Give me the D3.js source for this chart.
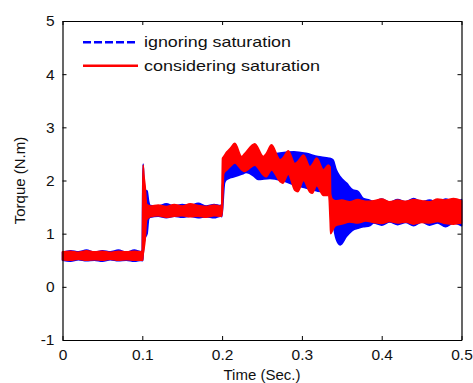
<!DOCTYPE html>
<html><head><meta charset="utf-8">
<script src="https://cdn.jsdelivr.net/npm/d3@7"></script>
<style>html,body{margin:0;padding:0;background:#fff;}svg{display:block;}</style>
</head><body>
<svg id="chart" width="473" height="383"></svg>
<script>
// ---- data (each series drawn as its min/max envelope) ----
const xTicks = [0, 0.1, 0.2, 0.3, 0.4, 0.5];
const yTicks = [-1, 0, 1, 2, 3, 4, 5];
const seriesNames = ["ignoring saturation", "considering saturation"];

// ignoring saturation (blue)
const blueTime = [0,0.01,0.02,0.03,0.04,0.05,0.06,0.07,0.08,0.09,0.099,0.1,0.1005,0.101,0.102,0.1035,0.106,0.108,0.11,
  0.12,0.13,0.14,0.15,0.16,0.17,0.18,0.19,0.198,0.1995,0.2005,0.203,0.205,0.21,0.215,0.225,0.23,0.24,0.245,0.26,0.275,0.29,0.305,0.32,0.334,
  0.339,0.343,0.348,0.356,0.364,0.37,0.377,0.385,0.39,0.4,0.41,0.42,0.43,0.44,0.45,0.46,0.47,0.48,0.49,0.5];
const blueLow = [0.5,0.48,0.51,0.49,0.5,0.48,0.51,0.49,0.5,0.48,0.5,0.49,0.5,0.6,0.8,0.92,1.0,1.28,1.31,
  1.33,1.3,1.33,1.31,1.33,1.3,1.32,1.3,1.33,1.32,1.45,1.95,2.01,2.05,2.07,2.12,2.15,2.08,2.02,2.04,2.0,1.92,1.86,1.8,1.78,
  1.2,0.9,0.79,0.95,1.07,1.1,1.13,1.15,1.2,1.16,1.22,1.17,1.21,1.15,1.22,1.16,1.2,1.13,1.2,1.15];
const blueHigh = [0.65,0.68,0.66,0.69,0.65,0.68,0.66,0.69,0.65,0.69,0.66,0.7,1.8,2.31,2.0,1.82,1.8,1.6,1.53,
  1.52,1.56,1.52,1.55,1.53,1.57,1.52,1.55,1.53,1.55,1.9,2.14,2.25,2.33,2.38,2.42,2.4,2.39,2.4,2.48,2.52,2.54,2.51,2.45,2.42,
  2.39,2.2,2.07,1.95,1.82,1.8,1.66,1.63,1.6,1.65,1.59,1.64,1.6,1.66,1.6,1.63,1.58,1.65,1.6,1.64];

// considering saturation (red)
const redTime = [0,0.01,0.02,0.03,0.04,0.05,0.06,0.07,0.08,0.09,0.099,0.1,0.1005,0.101,0.102,0.1035,0.1055,
  0.11,0.12,0.13,0.14,0.15,0.16,0.17,0.18,0.19,0.198,0.1995,0.2005,0.202,0.206,0.21,0.216,0.2245,0.228,0.241,0.2517,0.255,0.262,
  0.2726,0.276,0.283,0.291,0.295,0.302,0.31,0.313,0.3185,0.327,0.333,0.3355,0.336,0.338,0.342,
  0.35,0.36,0.37,0.38,0.39,0.4,0.41,0.42,0.43,0.44,0.45,0.46,0.47,0.48,0.49,0.5];
const redLow = [0.51,0.5,0.52,0.5,0.51,0.5,0.52,0.5,0.51,0.5,0.5,0.5,0.5,0.6,0.7,0.88,1.26,
  1.32,1.34,1.31,1.33,1.34,1.32,1.33,1.31,1.34,1.33,1.33,1.5,2.13,2.2,2.26,2.33,2.2,2.17,2.29,2.1,2.07,2.2,
  1.98,1.95,2.12,1.82,1.79,2.0,1.78,1.76,1.9,1.72,1.72,1.2,1.0,1.05,1.15,
  1.18,1.22,1.2,1.24,1.21,1.19,1.23,1.2,1.22,1.18,1.21,1.2,1.23,1.19,1.18,1.2];
const redHigh = [0.66,0.67,0.65,0.68,0.66,0.67,0.65,0.67,0.66,0.67,0.66,0.7,1.6,2.29,2.1,1.9,1.55,
  1.52,1.54,1.51,1.55,1.52,1.56,1.53,1.51,1.54,1.52,1.55,2.42,2.45,2.54,2.6,2.7,2.45,2.5,2.69,2.45,2.5,2.67,
  2.39,2.42,2.56,2.32,2.36,2.48,2.26,2.3,2.42,2.2,2.29,2.25,1.75,1.65,1.62,
  1.63,1.6,1.64,1.61,1.62,1.65,1.6,1.63,1.61,1.64,1.62,1.6,1.65,1.63,1.66,1.62];

// ---- drawing ----
const svg = d3.select("#chart");
const L = 62.5, R = 461.5, T = 21, B = 340;
const x = d3.scaleLinear().domain([0, 0.5]).range([L, R]);
const y = d3.scaleLinear().domain([-1, 5]).range([B, T]);
const font = "'Liberation Sans', Arial, sans-serif";
const txt = "#111";

function toRows(ts, lo, hi) { return ts.map((t, i) => ({t, lo: lo[i], hi: hi[i]})); }
const area = d3.area().curve(d3.curveMonotoneX).x(d => x(d.t)).y0(d => y(d.lo)).y1(d => y(d.hi));

const series = [
  {rows: toRows(blueTime, blueLow, blueHigh), color: "#0000ff"},
  {rows: toRows(redTime, redLow, redHigh), color: "#ff0000"}
];
series.forEach(s => {
  svg.append("path").datum(s.rows).attr("d", area)
    .attr("fill", s.color).attr("stroke", s.color).attr("stroke-width", 1.6)
    .attr("stroke-linejoin", "round");
});

// axes with inward ticks on all four sides
const fmt = d => String(d);
const axB = d3.axisBottom(x).tickValues(xTicks).tickSizeInner(-4).tickSizeOuter(0).tickPadding(9).tickFormat(fmt);
const axT = d3.axisTop(x).tickValues(xTicks).tickSizeInner(-4).tickSizeOuter(0).tickFormat("");
const axL = d3.axisLeft(y).tickValues(yTicks).tickSizeInner(-4).tickSizeOuter(0).tickPadding(8).tickFormat(fmt);
const axR = d3.axisRight(y).tickValues(yTicks).tickSizeInner(-4).tickSizeOuter(0).tickFormat("");

function styleAxis(g) {
  g.select(".domain").attr("stroke", "#000").attr("stroke-width", 1.2);
  g.selectAll(".tick line").attr("stroke", "#000");
  g.selectAll("text").attr("font-family", font).attr("font-size", 15.5).attr("fill", txt);
}
svg.append("g").attr("transform", `translate(0,${B})`).call(axB).call(styleAxis);
svg.append("g").attr("transform", `translate(0,${T})`).call(axT).call(styleAxis);
svg.append("g").attr("transform", `translate(${L},0)`).call(axL).call(styleAxis);
svg.append("g").attr("transform", `translate(${R},0)`).call(axR).call(styleAxis);

// axis titles
svg.append("text").attr("x", (L + R) / 2).attr("y", 380).attr("text-anchor", "middle")
  .attr("font-family", font).attr("font-size", 15).attr("fill", txt).text("Time (Sec.)");
svg.append("text").attr("transform", `translate(25,${(T + B) / 2}) rotate(-90)`).attr("text-anchor", "middle")
  .attr("font-family", font).attr("font-size", 15).attr("fill", txt).text("Torque (N.m)");

// legend
const legendWidths = [147, 176];
const legend = svg.append("g");
seriesNames.forEach((name, i) => {
  const ly = 42.3 + i * 23.5;
  legend.append("line").attr("x1", 83).attr("x2", 138).attr("y1", ly).attr("y2", ly)
    .attr("stroke", series[i].color).attr("stroke-width", 2.6)
    .attr("stroke-dasharray", i === 0 ? "8,3" : null);
  legend.append("text").attr("x", 144).attr("y", ly + 5).attr("font-family", font)
    .attr("font-size", 15).attr("fill", txt)
    .attr("textLength", legendWidths[i]).attr("lengthAdjust", "spacingAndGlyphs").text(name);
});
</script>
</body></html>
